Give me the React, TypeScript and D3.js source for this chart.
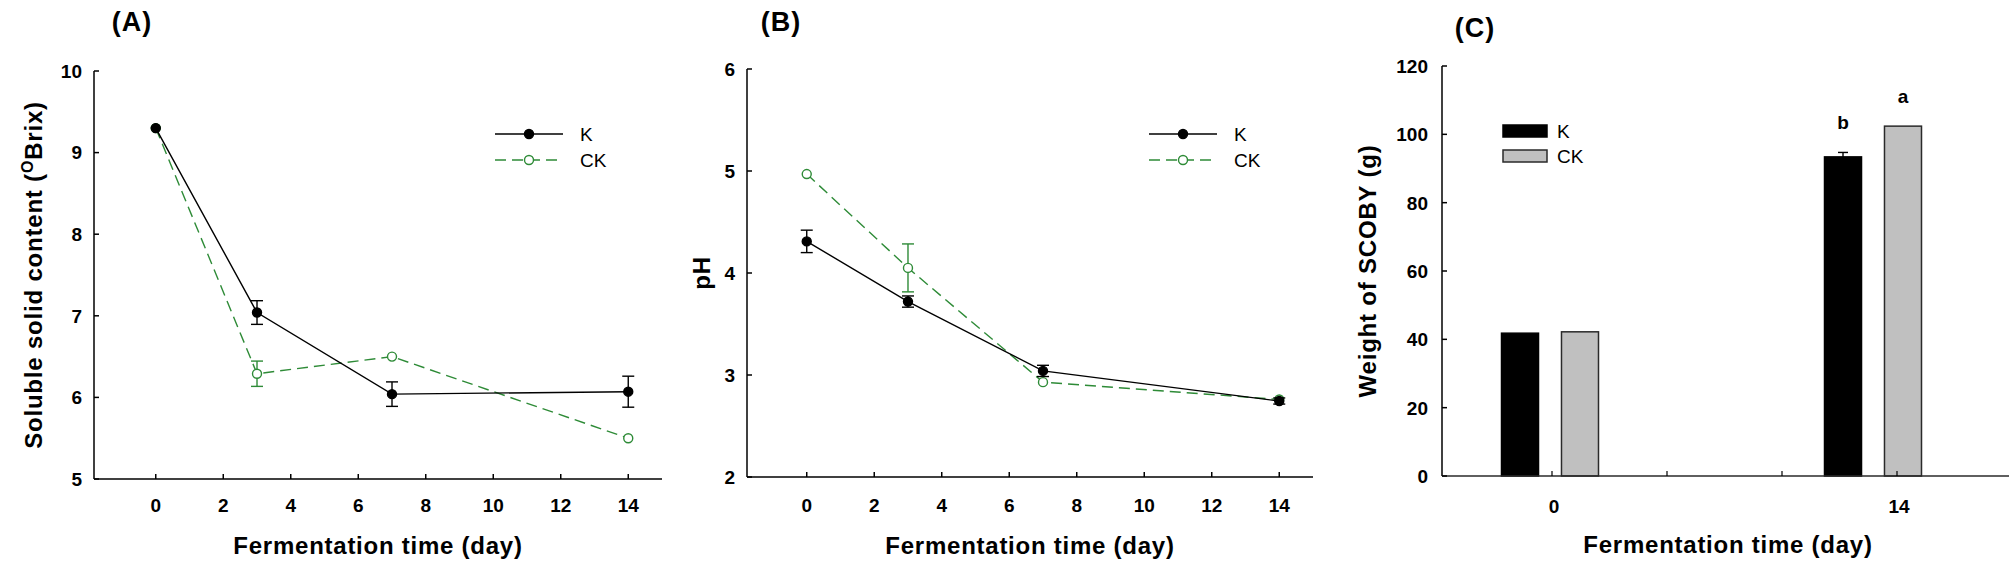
import React from "react";
import * as d3 from "d3";

// ---------- data ----------
const days = [0, 3, 7, 14];
const brixK = [9.3, 7.04, 6.04, 6.07];
const brixKErr = [0, 0.145, 0.15, 0.19];
const brixCK = [9.3, 6.29, 6.5, 5.5];
const brixCKErr = [0, 0.155, 0, 0];

const phK = [4.31, 3.72, 3.04, 2.745];
const phKErr = [0.11, 0.055, 0.055, 0.03];
const phCK = [4.97, 4.05, 2.93, 2.76];
const phCKErr = [0, 0.235, 0, 0];

const scobyDays = ["0", "14"];
const scobyK = [41.8, 93.4];
const scobyKErr = [0, 1.3];
const scobyCK = [42.2, 102.4];
const scobyCKErr = [0, 0];
const scobyKLetters = ["", "b"];
const scobyCKLetters = ["", "a"];

const lineXTicks = [0, 2, 4, 6, 8, 10, 12, 14];
const brixYTicks = [5, 6, 7, 8, 9, 10];
const phYTicks = [2, 3, 4, 5, 6];
const scobyYTicks = [0, 20, 40, 60, 80, 100, 120];
const scobyXTicks = [0, 14 / 3, 28 / 3, 14];
const scobyXLabels = [0, 14];

const seriesNames = ["K", "CK"];

// ---------- style ----------
const FONT = "'Liberation Sans', Arial, Helvetica, sans-serif";
const GREEN = "#2e8b37";
const TICK_FS = 19;
const TITLE_FS = 24;

type LineSeries = { vals: number[]; errs: number[]; color: string; dash?: string; filled: boolean };

function LinePanel(props: {
  x: d3.ScaleLinear<number, number>;
  y: d3.ScaleLinear<number, number>;
  yTicks: number[];
  series: LineSeries[];
  letter: string;
  letterX: number;
  yTitle: React.ReactNode;
  yTitleX: number;
  legendX: number;
}) {
  const { x, y, yTicks, series } = props;
  const [x0, x1] = x.range();
  const [yb, yt] = y.range();
  const line = d3
    .line<number>()
    .x((_, i) => x(days[i]))
    .y((v) => y(v));
  const cap = 6;
  return (
    <g fontFamily={FONT}>
      <text x={props.letterX} y={31} fontSize={27} fontWeight="bold" textAnchor="middle" letterSpacing={1}>
        {props.letter}
      </text>
      {/* axes */}
      <line x1={x0} x2={x0} y1={yt} y2={yb} stroke="#000" strokeWidth={1.5} />
      <line x1={x0} x2={x1} y1={yb} y2={yb} stroke="#000" strokeWidth={1.5} />
      {yTicks.map((t) => (
        <g key={"y" + t}>
          <line x1={x0} x2={x0 + 5} y1={y(t)} y2={y(t)} stroke="#000" strokeWidth={1.5} />
          <text x={x0 - 12} y={y(t)} dy="0.36em" textAnchor="end" fontSize={TICK_FS} fontWeight="bold">
            {t}
          </text>
        </g>
      ))}
      {lineXTicks.map((t) => (
        <g key={"x" + t}>
          <line x1={x(t)} x2={x(t)} y1={yb} y2={yb - 5} stroke="#000" strokeWidth={1.5} />
          <text x={x(t)} y={512} textAnchor="middle" fontSize={TICK_FS} fontWeight="bold">
            {t}
          </text>
        </g>
      ))}
      <text
        x={(x0 + x1) / 2}
        y={554}
        textAnchor="middle"
        fontSize={TITLE_FS}
        fontWeight="bold"
        letterSpacing={0.75}
      >
        Fermentation time (day)
      </text>
      <text
        transform={`translate(${props.yTitleX},${(yt + yb) / 2}) rotate(-90)`}
        textAnchor="middle"
        fontSize={TITLE_FS}
        fontWeight="bold"
        letterSpacing={0.8}
      >
        {props.yTitle}
      </text>
      {/* series */}
      {series
        .slice()
        .reverse()
        .map((s, si) => (
          <g key={"s" + si}>
            <path d={line(s.vals) || ""} fill="none" stroke={s.color} strokeWidth={1.4} strokeDasharray={s.dash} />
            {s.vals.map((v, i) =>
              s.errs[i] > 0 ? (
                <g key={"e" + i} stroke={s.color} strokeWidth={1.4}>
                  <line x1={x(days[i])} x2={x(days[i])} y1={y(v - s.errs[i])} y2={y(v + s.errs[i])} />
                  <line x1={x(days[i]) - cap} x2={x(days[i]) + cap} y1={y(v + s.errs[i])} y2={y(v + s.errs[i])} />
                  <line x1={x(days[i]) - cap} x2={x(days[i]) + cap} y1={y(v - s.errs[i])} y2={y(v - s.errs[i])} />
                </g>
              ) : null
            )}
            {s.vals.map((v, i) => (
              <circle
                key={"c" + i}
                cx={x(days[i])}
                cy={y(v)}
                r={4.5}
                fill={s.filled ? s.color : "#fff"}
                stroke={s.color}
                strokeWidth={1.4}
              />
            ))}
          </g>
        ))}
      {/* legend */}
      {series.map((s, i) => {
        const ly = 134 + i * 26;
        const lx = props.legendX;
        return (
          <g key={"l" + i}>
            <line x1={lx} x2={lx + 68} y1={ly} y2={ly} stroke={s.color} strokeWidth={1.4} strokeDasharray={s.dash} />
            <circle cx={lx + 34} cy={ly} r={4.5} fill={s.filled ? s.color : "#fff"} stroke={s.color} strokeWidth={1.4} />
            <text x={lx + 85} y={ly + 7} fontSize={19}>
              {seriesNames[i]}
            </text>
          </g>
        );
      })}
    </g>
  );
}

function BarPanel() {
  const y = d3.scaleLinear().domain([0, 120]).range([476, 66]);
  const xAxis = d3.scaleLinear().domain([0, 14]).range([1552, 1897]);
  const group = d3.scalePoint<string>().domain(scobyDays).range([1550, 1873]);
  const sub = d3.scaleBand<string>().domain(seriesNames).range([-48.5, 48.5]).paddingInner(0.383);
  const bw = sub.bandwidth();
  const x0 = 1442;
  const x1 = 2009;
  const [yb, yt] = y.range();
  const bars = [
    { vals: scobyK, errs: scobyKErr, letters: scobyKLetters, fill: "#000", stroke: "#000" },
    { vals: scobyCK, errs: scobyCKErr, letters: scobyCKLetters, fill: "#c0c0c0", stroke: "#2a2a2a" },
  ];
  return (
    <g fontFamily={FONT}>
      <text x={1475} y={37} fontSize={27} fontWeight="bold" textAnchor="middle" letterSpacing={1}>
        (C)
      </text>
      {bars.map((b, si) =>
        b.vals.map((v, i) => {
          const bx = (group(scobyDays[i]) as number) + (sub(seriesNames[si]) as number);
          const cx = bx + bw / 2;
          return (
            <g key={`b${si}-${i}`}>
              <rect x={bx} y={y(v)} width={bw} height={yb - y(v)} fill={b.fill} stroke={b.stroke} strokeWidth={1.5} />
              {b.errs[i] > 0 ? (
                <g stroke="#000" strokeWidth={1.4}>
                  <line x1={cx} x2={cx} y1={y(v - b.errs[i])} y2={y(v + b.errs[i])} />
                  <line x1={cx - 5} x2={cx + 5} y1={y(v + b.errs[i])} y2={y(v + b.errs[i])} />
                </g>
              ) : null}
              {b.letters[i] ? (
                <text x={cx} y={y(v + b.errs[i]) - 23} textAnchor="middle" fontSize={19} fontWeight="bold">
                  {b.letters[i]}
                </text>
              ) : null}
            </g>
          );
        })
      )}
      <line x1={x0} x2={x0} y1={yt} y2={yb} stroke="#000" strokeWidth={1.5} />
      <line x1={x0} x2={x1} y1={yb} y2={yb} stroke="#2a2a2a" strokeWidth={1.5} />
      {scobyYTicks.map((t) => (
        <g key={"y" + t}>
          <line x1={x0} x2={x0 + 5} y1={y(t)} y2={y(t)} stroke="#000" strokeWidth={1.5} />
          <text x={x0 - 14} y={y(t)} dy="0.36em" textAnchor="end" fontSize={TICK_FS} fontWeight="bold">
            {t}
          </text>
        </g>
      ))}
      {scobyXTicks.map((t, i) => (
        <line key={"xt" + i} x1={xAxis(t)} x2={xAxis(t)} y1={yb} y2={yb - 5} stroke="#000" strokeWidth={1.2} />
      ))}
      {scobyXLabels.map((t) => (
        <text key={"xl" + t} x={xAxis(t) + 2} y={513} textAnchor="middle" fontSize={TICK_FS} fontWeight="bold">
          {t}
        </text>
      ))}
      <text x={1728} y={553} textAnchor="middle" fontSize={TITLE_FS} fontWeight="bold" letterSpacing={0.75}>
        Fermentation time (day)
      </text>
      <text
        transform={`translate(1376,${(yt + yb) / 2}) rotate(-90)`}
        textAnchor="middle"
        fontSize={TITLE_FS}
        fontWeight="bold"
        letterSpacing={0.8}
      >
        Weight of SCOBY (g)
      </text>
      {/* legend */}
      {bars.map((b, i) => (
        <g key={"lg" + i}>
          <rect x={1503} y={125 + i * 25} width={44} height={12} fill={b.fill} stroke={b.stroke} strokeWidth={1.5} />
          <text x={1557} y={138 + i * 25} fontSize={19}>
            {seriesNames[i]}
          </text>
        </g>
      ))}
    </g>
  );
}

export default function App() {
  const xA = d3.scaleLinear().domain([-1.83, 15]).range([94, 662]);
  const yA = d3.scaleLinear().domain([5, 10]).range([479, 71]);
  const xB = d3.scaleLinear().domain([-1.77, 15]).range([747, 1313]);
  const yB = d3.scaleLinear().domain([2, 6]).range([477, 69]);

  const seriesA: LineSeries[] = [
    { vals: brixK, errs: brixKErr, color: "#000", filled: true },
    { vals: brixCK, errs: brixCKErr, color: GREEN, dash: "11,6", filled: false },
  ];
  const seriesB: LineSeries[] = [
    { vals: phK, errs: phKErr, color: "#000", filled: true },
    { vals: phCK, errs: phCKErr, color: GREEN, dash: "11,6", filled: false },
  ];

  return (
    <svg
      width={2009}
      height={569}
      viewBox="0 0 2009 569"
      style={{ position: "absolute", left: 0, top: 0, background: "#fff" }}
    >
      <rect width={2009} height={569} fill="#fff" />
      <LinePanel
        x={xA}
        y={yA}
        yTicks={brixYTicks}
        series={seriesA}
        letter="(A)"
        letterX={132}
        yTitle={
          <>
            Soluble solid content (
            <tspan fontSize={16} dy={-9}>
              O
            </tspan>
            <tspan dy={9}>Brix)</tspan>
          </>
        }
        yTitleX={42}
        legendX={495}
      />
      <LinePanel
        x={xB}
        y={yB}
        yTicks={phYTicks}
        series={seriesB}
        letter="(B)"
        letterX={781}
        yTitle="pH"
        yTitleX={710}
        legendX={1149}
      />
      <BarPanel />
    </svg>
  );
}
